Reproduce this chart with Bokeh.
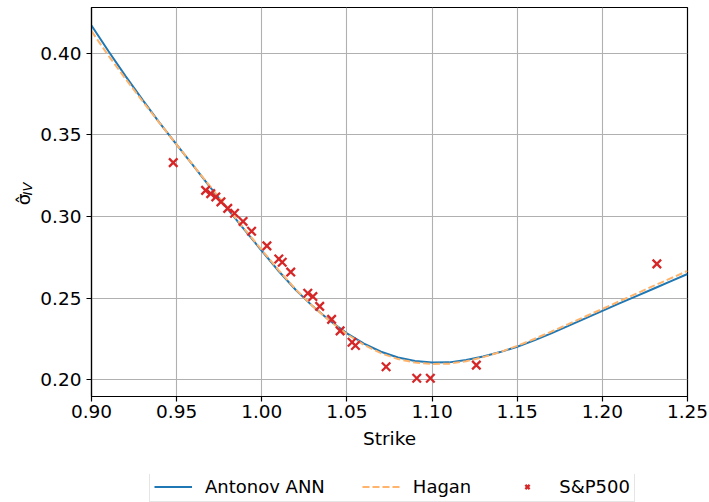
from bokeh.plotting import figure
from bokeh.layouts import column, row
from bokeh.models import (Range1d, FixedTicker, NumeralTickFormatter, Legend,
                          LegendItem, Label)
from bokeh.embed import file_html
from bokeh.resources import INLINE

# Model curves: implied volatility against strike
strike_grid = [0.90, 0.91, 0.92, 0.93, 0.94, 0.95, 0.96, 0.97, 0.98, 0.99,
               1.00, 1.01, 1.02, 1.03, 1.04, 1.05, 1.06, 1.07, 1.08, 1.09,
               1.10, 1.11, 1.12, 1.13, 1.14, 1.15, 1.16, 1.17, 1.18, 1.19,
               1.20, 1.21, 1.22, 1.23, 1.24, 1.25]
antonov_ann = [0.4170, 0.4012, 0.3860, 0.3714, 0.3574, 0.3440, 0.3308, 0.3176,
               0.3046, 0.2917, 0.2790, 0.2665, 0.2550, 0.2450, 0.2362, 0.2285,
               0.2222, 0.2172, 0.2137, 0.2116, 0.2106, 0.2107, 0.2122, 0.2143,
               0.2170, 0.2203, 0.2242, 0.2285, 0.2330, 0.2376, 0.2422, 0.2468,
               0.2513, 0.2558, 0.2603, 0.2648]
hagan = [0.4135, 0.3985, 0.3843, 0.3706, 0.3572, 0.3440, 0.3310, 0.3180,
         0.3050, 0.2922, 0.2795, 0.2670, 0.2553, 0.2450, 0.2360, 0.2280,
         0.2214, 0.2163, 0.2127, 0.2106, 0.2097, 0.2099, 0.2114, 0.2139,
         0.2170, 0.2208, 0.2250, 0.2295, 0.2341, 0.2388, 0.2434, 0.2481,
         0.2528, 0.2575, 0.2621, 0.2667]

# Market quotes
sp500_strike = [0.948, 0.967, 0.970, 0.973, 0.976, 0.980, 0.984, 0.989, 0.994,
                1.003, 1.010, 1.012, 1.017, 1.027, 1.030, 1.034, 1.041, 1.046,
                1.053, 1.055, 1.073, 1.091, 1.099, 1.126, 1.232]
sp500_vol = [0.333, 0.316, 0.314, 0.312, 0.309, 0.305, 0.302, 0.297, 0.291,
             0.282, 0.274, 0.272, 0.266, 0.253, 0.251, 0.245, 0.237, 0.230,
             0.223, 0.221, 0.208, 0.201, 0.201, 0.209, 0.271]

x_ticks = [0.90, 0.95, 1.00, 1.05, 1.10, 1.15, 1.20, 1.25]
y_ticks = [0.20, 0.25, 0.30, 0.35, 0.40]

FONT = "DejaVu Sans"
FS = "18.5px"
BLUE, ORANGE, RED = "#1f77b4", "#ffb36b", "#d62728"


def curve_styles(fig):
    """Draw the two model curves and the market quotes on a figure."""
    ann = fig.line(strike_grid, antonov_ann, line_color=BLUE, line_width=2)
    hag = fig.line(strike_grid, hagan, line_color=ORANGE, line_width=2,
                   line_dash="7 3")
    sp = fig.scatter(sp500_strike, sp500_vol, marker="x", size=12,
                     line_color=RED, line_width=2.3)
    return ann, hag, sp


# ---- main axes -------------------------------------------------------------
p = figure(width=674, height=474, output_backend="svg", toolbar_location=None,
           x_range=Range1d(0.90, 1.25), y_range=Range1d(0.1898, 0.428),
           min_border_left=56, min_border_right=22, min_border_top=7,
           min_border_bottom=78)
p.background_fill_color = "white"
p.border_fill_color = "white"
p.outline_line_color = "black"
p.outline_line_width = 1.2

for ax in (p.xaxis, p.yaxis):
    ax.axis_line_color = "black"
    ax.axis_line_width = 1.2
    ax.major_tick_line_color = "black"
    ax.major_tick_line_width = 1.2
    ax.major_tick_out = 5
    ax.major_tick_in = 0
    ax.minor_tick_line_color = None
    ax.major_label_text_font = FONT
    ax.major_label_text_font_size = FS
    ax.major_label_text_color = "black"
    ax.axis_label_text_font = FONT
    ax.axis_label_text_font_size = FS
    ax.axis_label_text_font_style = "normal"
    ax.axis_label_text_color = "black"

p.xaxis.ticker = FixedTicker(ticks=x_ticks)
p.yaxis.ticker = FixedTicker(ticks=y_ticks)
p.xaxis.formatter = NumeralTickFormatter(format="0.00")
p.yaxis.formatter = NumeralTickFormatter(format="0.00")
p.xaxis.axis_label = "Strike"
p.xaxis.axis_label_standoff = 7
p.xaxis.major_label_standoff = 3
p.yaxis.major_label_standoff = 5

p.grid.grid_line_color = "#b0b0b0"
p.grid.grid_line_width = 1.1

curve_styles(p)

# ---- y-axis title: sigma-hat with subscript IV ------------------------------
yl = figure(width=35, height=474, output_backend="svg", toolbar_location=None,
            x_range=Range1d(0, 35), y_range=Range1d(474, 0), min_border=0,
            x_axis_location=None, y_axis_location=None)
yl.grid.visible = False
yl.outline_line_color = None
yl.background_fill_color = "white"
yl.border_fill_color = "white"
yl.add_layout(Label(x=23, y=241, text="σ̂", angle=90, angle_units="deg",
                    text_font=FONT, text_font_size=FS, text_color="black",
                    text_align="left", text_baseline="alphabetic"))
yl.add_layout(Label(x=27, y=229, text="IV", angle=90, angle_units="deg",
                    text_font=FONT, text_font_size="13px",
                    text_font_style="italic", text_color="black",
                    text_align="left", text_baseline="alphabetic"))

# ---- legend strip under the axes ------------------------------------------
# the strip's ranges sit away from the data, so only the legend shows
lg = figure(width=709, height=28, output_backend="svg", toolbar_location=None,
            x_range=Range1d(0, 1), y_range=Range1d(5, 6), min_border=0,
            x_axis_location=None, y_axis_location=None)
lg.grid.visible = False
lg.outline_line_color = None
lg.background_fill_color = "white"
lg.border_fill_color = "white"
k_ann, k_hag, k_sp = curve_styles(lg)

legend = Legend(items=[LegendItem(label="Antonov ANN", renderers=[k_ann]),
                       LegendItem(label="Hagan", renderers=[k_hag]),
                       LegendItem(label="S&P500", renderers=[k_sp])],
                orientation="horizontal", location=(149, 0),
                glyph_width=38, glyph_height=15, label_height=15,
                label_standoff=13, spacing=37, padding=4, margin=0,
                label_text_font=FONT, label_text_font_size="18px",
                label_text_color="black",
                border_line_color="#cccccc", border_line_width=1,
                background_fill_alpha=0.8)
lg.add_layout(legend, "center")

layout = column(row(yl, p, spacing=0), lg, spacing=0)
open("out.html", "w").write(file_html(layout, INLINE))
